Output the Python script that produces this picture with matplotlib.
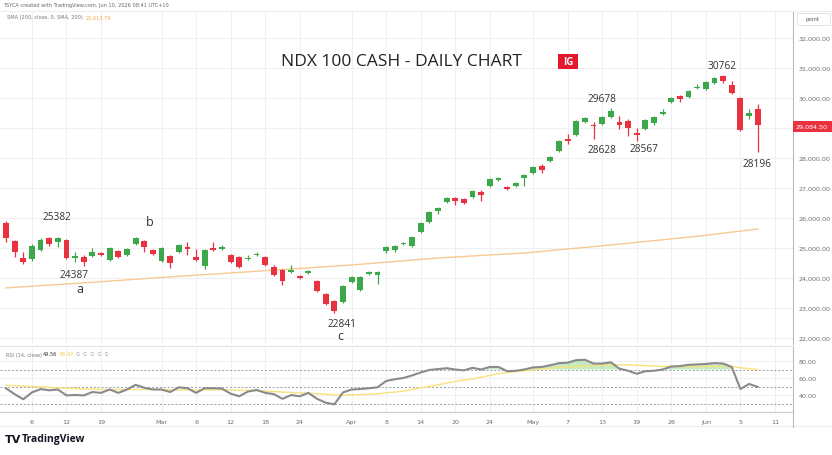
import numpy as np
import pandas as pd
import matplotlib
matplotlib.use("Agg")
import matplotlib.pyplot as plt
import matplotlib.patches as patches

# ---- donnees (NDX 100 cash, daily) ----
holidays = ["2026-02-16", "2026-04-03", "2026-05-25"]
dates = pd.bdate_range("2026-02-03", "2026-06-11")
dates = dates[~dates.isin(pd.to_datetime(holidays))]
n_bars = 88

opens = [25833, 25233, 24667, 24633, 24933, 25333, 25200, 25267, 24667, 24700,
         24733, 24833, 24600, 24900, 24767, 25133, 25233, 24933, 24567, 24733,
         24867, 25033, 24700, 24400, 25000, 24967, 24767, 24700, 24633, 24767,
         24700, 24367, 24267, 24200, 24067, 24167, 23900, 23467, 23233, 23200,
         23867, 23600, 24133, 24100, 24900, 24933, 25133, 25067, 25533, 25867,
         26233, 26533, 26667, 26633, 26700, 26867, 27067, 27267, 27033, 27067,
         27333, 27500, 27733, 27900, 28233, 28633, 28767, 29200, 29100, 29133,
         29378, 29189, 29243, 28833, 28967, 29156, 29467, 29856, 30078, 30022,
         30333, 30300, 30489, 30744, 30444, 30000, 29411, 29633]
highs = [25900, 25267, 24867, 25133, 25333, 25382, 25367, 25300, 24867, 24767,
         25000, 24867, 25033, 24933, 25000, 25367, 25267, 24967, 25033, 24767,
         25133, 25200, 24967, 24967, 25200, 25100, 24800, 24733, 24767, 24867,
         24733, 24433, 24300, 24433, 24100, 24267, 23933, 23500, 23267, 23767,
         24067, 24067, 24233, 24233, 25067, 25100, 25200, 25400, 25867, 26233,
         26367, 26700, 26700, 26667, 26933, 26933, 27333, 27367, 27067, 27200,
         27467, 27733, 27800, 28067, 28600, 28800, 29267, 29367, 29200, 29400,
         29678, 29411, 29300, 29000, 29300, 29400, 29633, 30033, 30100, 30256,
         30467, 30556, 30689, 30762, 30567, 30033, 29633, 29800]
lows = [25200, 24700, 24467, 24567, 24900, 25067, 25033, 24633, 24533, 24387,
        24700, 24733, 24567, 24667, 24733, 25100, 24867, 24767, 24533, 24333,
        24833, 24767, 24567, 24300, 24900, 24933, 24500, 24333, 24600, 24733,
        24400, 24067, 23767, 24167, 23967, 24133, 23533, 23100, 22841, 23167,
        23833, 23567, 24100, 23800, 24833, 24867, 25100, 25033, 25500, 25833,
        26133, 26500, 26433, 26467, 26667, 26567, 27033, 27233, 26933, 27033,
        27067, 27467, 27500, 27867, 28200, 28467, 28733, 29167, 28628, 29100,
        29333, 28967, 28744, 28567, 28933, 29100, 29433, 29822, 29856, 29989,
        30300, 30267, 30456, 30489, 30133, 28900, 29300, 28196]
closes = [25333, 24867, 24533, 25067, 25267, 25133, 25333, 24667, 24733, 24533,
          24867, 24767, 25000, 24700, 24967, 25333, 25033, 24800, 25000, 24500,
          25100, 24967, 24600, 24933, 24933, 25033, 24533, 24367, 24667, 24800,
          24433, 24100, 23900, 24267, 24000, 24233, 23567, 23133, 22900, 23733,
          24033, 24033, 24200, 24200, 25033, 25067, 25167, 25367, 25833, 26200,
          26333, 26667, 26567, 26500, 26900, 26767, 27300, 27333, 26967, 27167,
          27433, 27700, 27600, 28033, 28567, 28567, 29233, 29333, 29067, 29357,
          29578, 29111, 29000, 28778, 29267, 29356, 29522, 30000, 29967, 30222,
          30378, 30522, 30656, 30578, 30156, 28933, 29489, 29084.5]

# SMA 200 (quelques points lus le long de la ligne)
sma_idx = [0, 10, 20, 30, 40, 50, 60, 70, 80, 87]
sma_vals = [23670, 23857, 24057, 24243, 24433, 24667, 24833, 25100, 25390, 25633]

rsi = [47.9, 41, 35, 43, 47, 45.5, 46.5, 39.5, 40, 39.5,
       43.5, 42.5, 46.5, 42.5, 46.5, 52, 48.5, 46.5, 46.5, 43.5,
       49, 48, 42.5, 48, 48, 47.5, 41.5, 38.5, 44, 46,
       42.5, 41, 35.5, 40, 38.5, 42.5, 35.5, 31, 29, 43,
       46.5, 47, 48, 49, 56.5, 58.5, 60, 63, 66.5, 69.5,
       70.5, 71.5, 70, 69, 72, 70, 73, 73, 68, 68.5,
       70, 72.5, 73, 75, 77.5, 78, 81, 81.5, 77, 77,
       78.5, 71, 68.5, 65, 68, 68.5, 70, 73.5, 74, 75.5,
       76, 76.5, 77.5, 77, 73, 47, 53, 49.56]
rsi_ma = [51.5, 51, 50.5, 50, 49.5, 49, 48.5, 48, 47.5, 47,
          47, 46.5, 46.5, 46.5, 46.5, 46.5, 46.5, 46.5, 46.5, 46,
          46, 46, 46, 46, 46, 46, 46, 45.5, 45.5, 45,
          44.5, 44, 43.5, 43, 42.5, 42, 41.5, 41, 40, 40,
          40, 40.5, 41, 41.5, 42.5, 43.5, 44.5, 46.5, 48.5, 50,
          52, 54, 56, 57.5, 59, 61, 63, 65, 66.5, 67.5,
          68.5, 69.5, 70.5, 71.5, 72.5, 73, 73.5, 74, 74.5, 75,
          75.5, 75.5, 75.5, 75, 74.5, 74, 73.5, 73.5, 73.5, 73.5,
          73.5, 73.5, 73.5, 74, 73.5, 72, 71, 70]

tick_dates = ["2026-02-06", "2026-02-12", "2026-02-19", "2026-03-02", "2026-03-06",
              "2026-03-12", "2026-03-18", "2026-03-24", "2026-04-01", "2026-04-08",
              "2026-04-14", "2026-04-20", "2026-04-24", "2026-05-01", "2026-05-07",
              "2026-05-13", "2026-05-19", "2026-05-26", "2026-06-01", "2026-06-05",
              "2026-06-11"]
tick_labels = ["6", "12", "19", "Mar", "6", "12", "18", "24", "Apr", "8", "14", "20",
               "24", "May", "7", "13", "19", "26", "Jun", "5", "11"]
price_ticks = list(range(22000, 32001, 1000))
rsi_ticks = [40, 60, 80]

W, H = 832, 456
UP = "#3da84a"
DOWN = "#e8323f"
GRID = "#eef0f4"
AXTXT = "#6a6d78"


def fx(x):
    return x / W


def fy(y):
    return 1 - y / H


fig = plt.figure(figsize=(W / 100, H / 100), dpi=100)
fig.patch.set_facecolor("white")

ax = fig.add_axes([0, fy(345), fx(793), (345 - 12) / H])
ax_rsi = fig.add_axes([0, fy(413), fx(793), (413 - 347) / H], sharex=ax)

x = np.arange(n_bars)
o = np.array(opens, dtype=float)
h = np.array(highs, dtype=float)
l = np.array(lows, dtype=float)
c = np.array(closes, dtype=float)
up = c >= o
cols = np.where(up, UP, DOWN)

# meches + corps
ax.vlines(x, l, h, colors=cols, linewidth=0.9, zorder=3)
body_lo = np.minimum(o, c)
body_h = np.maximum(np.abs(c - o), 25)
ax.bar(x, body_h, bottom=body_lo, width=0.68, color=cols, linewidth=0, zorder=4)

# SMA 200
ax.plot(sma_idx, sma_vals, color="#f8c995", linewidth=1.0, zorder=2)

tick_pos = [dates.get_loc(pd.Timestamp(d)) for d in tick_dates]
ax.set_xlim(-6 / 8.64, (793 - 6) / 8.64)
ax.set_ylim(21800, 32900)
ax.set_xticks(tick_pos)
ax.set_yticks(price_ticks)
ax.grid(True, color=GRID, linewidth=0.8)
ax.set_axisbelow(True)
ax.yaxis.tick_right()
# l'etiquette 29,000 est cachee par celle du dernier prix
ax.set_yticklabels(["" if v == 29000 else f"{v:,.2f}" for v in price_ticks])
ax.tick_params(axis="y", length=0, pad=4, labelsize=4.6, labelcolor=AXTXT)
ax.tick_params(axis="x", length=0, labelbottom=False)
for s in ["top", "left", "bottom"]:
    ax.spines[s].set_visible(False)
ax.spines["right"].set_color("#b8bbc4")
ax.spines["right"].set_linewidth(0.8)

# annotations
tfont = "Open Sans"
lbl = dict(fontsize=7.3, color="#333333", ha="center", va="center", family=tfont)
ltr = dict(fontsize=9, color="#333333", ha="center", va="center", family=tfont)
ax.text(5.9, 26057, "25382", **lbl)
ax.text(7.87, 24100, "24387", **lbl)
ax.text(16.67, 25877, "b", **ltr)
ax.text(8.56, 23657, "a", **ltr)
ax.text(38.85, 22467, "22841", **lbl)
ax.text(38.66, 22077, "c", **ltr)
ax.text(68.95, 29990, "29678", **lbl)
ax.text(68.95, 28267, "28628", **lbl)
ax.text(73.84, 28300, "28567", **lbl)
ax.text(82.84, 31077, "30762", **lbl)
ax.text(86.89, 27817, "28196", **lbl)

fig.text(fx(401), fy(62), "NDX 100 CASH - DAILY CHART", fontsize=12.5, color="#222222",
         ha="center", va="center", family=tfont)
fig.patches.append(patches.Rectangle((fx(558), fy(70)), fx(20), 15 / H, transform=fig.transFigure,
                                     facecolor="#e3182d", edgecolor="none"))
fig.text(fx(568), fy(62.5), "IG", fontsize=7, color="white", ha="center", va="center",
         weight="bold", family=tfont)

# RSI
ax_rsi.plot(x, rsi_ma, color="#f7e27c", linewidth=1.0, zorder=3)
ax_rsi.plot(x, rsi, color="#8a8a8a", linewidth=1.5, zorder=4)
r = np.array(rsi)
ax_rsi.fill_between(x, r, 70, where=r > 70, interpolate=True, color="#7fd37a", alpha=0.45,
                    linewidth=0, zorder=2)
for lev in [70, 50, 30]:
    ax_rsi.axhline(lev, color="#9a9ca5", linewidth=0.7, linestyle=(0, (2, 2)), zorder=1)
ax_rsi.set_ylim(20, 97.65)
ax_rsi.set_yticks(rsi_ticks)
ax_rsi.set_yticklabels([f"{v:.2f}" for v in rsi_ticks])
ax_rsi.yaxis.tick_right()
ax_rsi.tick_params(axis="y", length=0, pad=4, labelsize=4.6, labelcolor=AXTXT)
ax_rsi.set_xticks(tick_pos)
ax_rsi.set_xticklabels(tick_labels)
ax_rsi.tick_params(axis="x", length=0, pad=5, labelsize=4.6, labelcolor=AXTXT)
ax_rsi.grid(True, color=GRID, linewidth=0.8)
ax_rsi.set_axisbelow(True)
ax_rsi.spines["top"].set_color("#e0e3eb")
ax_rsi.spines["left"].set_visible(False)
ax_rsi.spines["bottom"].set_color("#c9ccd4")
ax_rsi.spines["right"].set_color("#b8bbc4")
ax_rsi.spines["right"].set_linewidth(0.8)

# axe des dates : ligne de bas et prolongement de l'axe droit
fig.add_artist(plt.Line2D([0, 1], [fy(427), fy(427)], color="#eceef2", linewidth=0.8))
fig.add_artist(plt.Line2D([fx(793), fx(793)], [fy(413), fy(428)], color="#b8bbc4", linewidth=0.8))
fig.add_artist(plt.Line2D([0, 1], [fy(12), fy(12)], color="#eceef2", linewidth=0.8))

# dernier prix
fig.patches.append(patches.Rectangle((fx(793), fy(132.5)), fx(39), 11 / H, transform=fig.transFigure,
                                     facecolor="#e8323f", edgecolor="none"))
fig.text(fx(812), fy(127), f"{closes[-1]:,.2f}", fontsize=4.6, color="white", ha="center", va="center")

# entetes
hdr = dict(fontsize=3.6, va="center")
fig.text(fx(3), fy(6), "TSYCA created with TradingView.com, Jun 10, 2026 08:41 UTC+10",
         color="#666666", **hdr)
fig.text(fx(7), fy(18), "SMA (200, close, 0, SMA, 200)", color="#777777", **hdr)
fig.text(fx(86), fy(18), "25,613.79", color="#f5a54a", **hdr)
fig.patches.append(patches.Rectangle((fx(797), fy(26)), fx(33), 12 / H, transform=fig.transFigure,
                                     facecolor="white", edgecolor="#dcdfe6", linewidth=0.6))
fig.text(fx(813), fy(20), "point", fontsize=4.0, color="#555555", ha="center", va="center")

fig.text(fx(6), fy(355), "RSI (14, close)", color="#777777", **hdr)
fig.text(fx(43), fy(355), f"{rsi[-1]:.2f}", color="#333333", **hdr)
fig.text(fx(60), fy(355), "65.47", color="#e9cc3a", **hdr)
fig.text(fx(76), fy(355), "\u2205  \u2205  \u2205  \u2205  \u2205", fontsize=3.4, color="#888888",
         va="center")

fig.text(fx(5), fy(440), "TV", fontsize=8, color="#131722", va="center", weight="bold")
fig.text(fx(22), fy(440), "TradingView", fontsize=7.5, color="#131722", va="center", weight="bold",
         family=tfont)

fig.savefig("out.png", dpi=100)
